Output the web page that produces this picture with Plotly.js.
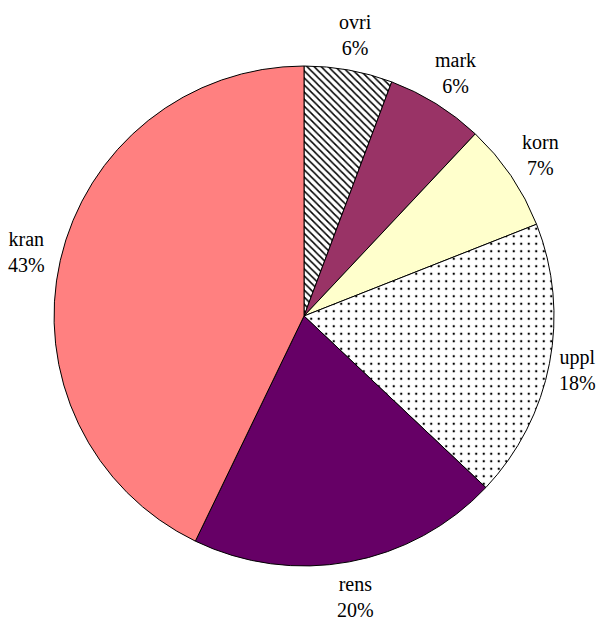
<!DOCTYPE html>
<html><head><meta charset="utf-8">
<script src="https://cdn.plot.ly/plotly-3.0.1.min.js"></script>
<style>html,body{margin:0;padding:0;background:#fff}</style>
</head><body><div id="chart" style="width:597px;height:621px"></div>
<script>
const labels = ["ovri","mark","korn","uppl","rens","kran"];
const values = [5.7, 6.3, 7.0, 18.0, 20.1, 42.8];
const colors = ["#ffffff","#993366","#ffffcc","#ffffff","#660066","#ff8080"];
const patterns = ["\\","","",".","",""];

const W = 597, H = 621;
const dom = {x:[0.0905,0.928], y:[0.0886,0.8937]};
const cx = (dom.x[0]+dom.x[1])/2*W, cy = (1-(dom.y[0]+dom.y[1])/2)*H;
const R = (dom.x[1]-dom.x[0])*W/2;
const total = values.reduce((a,b)=>a+b,0);
let cum = 0;
const annotations = labels.map((l,i)=>{
  const mid = (cum + values[i]/2)/total*2*Math.PI; cum += values[i];
  const r = R + 36;
  let px = cx + r*Math.sin(mid), py = cy - r*Math.cos(mid);
  px = Math.max(26, Math.min(W - 20, px));
  return {x:px/W, y:1-py/H, xref:"paper", yref:"paper", showarrow:false,
    xanchor:"center", yanchor:"middle",
    text: l + "<br>" + Math.round(values[i]/total*100) + "%",
    font:{family:"Liberation Serif, serif", size:20, color:"#000"}};
});

Plotly.newPlot("chart",[{
  type:"pie",
  labels:labels, values:values,
  sort:false, direction:"clockwise", rotation:0,
  marker:{colors:colors, line:{color:"#000",width:1},
    pattern:{shape:patterns, fgcolor:"#000", bgcolor:colors, size:[5,7,7,7.5,7,7], solidity:[0.3,0.3,0.3,0.08,0.3,0.3]}},
  textinfo:"none",
  hoverinfo:"none",
  showlegend:false,
  domain:dom
}],{
  width:W,height:H,
  margin:{l:0,r:0,t:0,b:0},
  paper_bgcolor:"#fff",
  showlegend:false,
  annotations:annotations
},{staticPlot:true});
</script></body></html>
